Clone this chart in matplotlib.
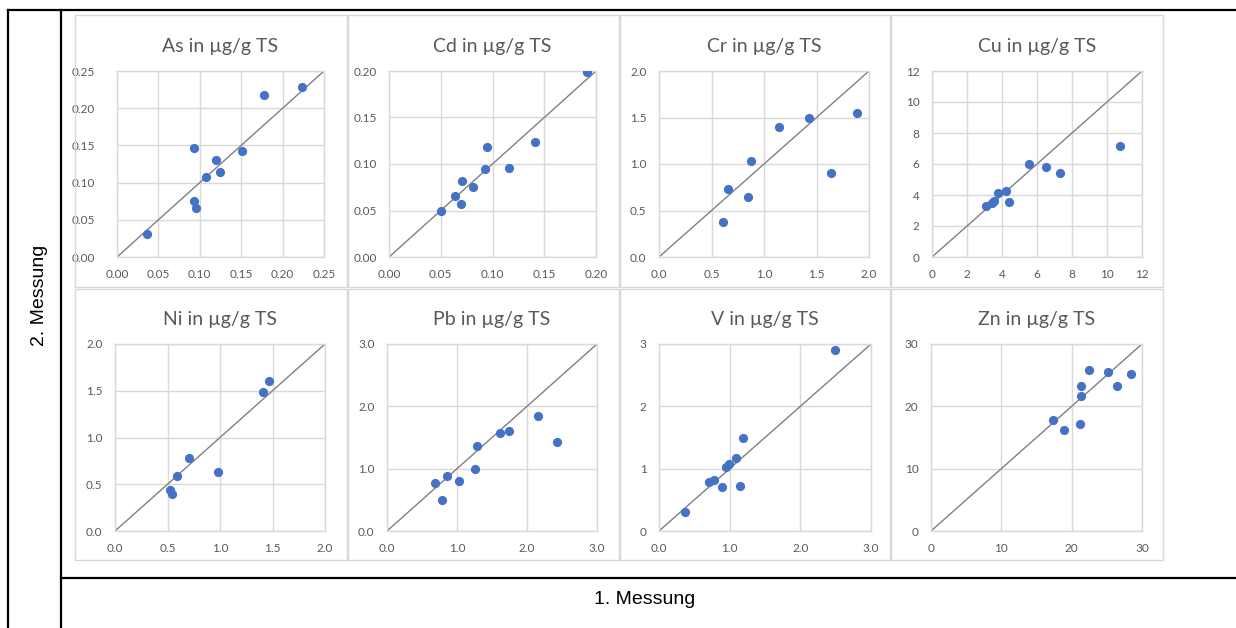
import matplotlib
matplotlib.use("Agg")
import matplotlib.pyplot as plt
from matplotlib.lines import Line2D
from matplotlib.ticker import FormatStrFormatter, MultipleLocator

# element names, axis limits, tick steps and tick formats
elements = ["As", "Cd", "Cr", "Cu", "Ni", "Pb", "V", "Zn"]
limits = [0.25, 0.20, 2.0, 12, 2.0, 3.0, 3.0, 30]
steps = [0.05, 0.05, 0.5, 2, 0.5, 1.0, 1.0, 10]
x_fmt = ["%.2f", "%.2f", "%.1f", "%d", "%.1f", "%.1f", "%.1f", "%d"]
y_fmt = ["%.2f", "%.2f", "%.1f", "%d", "%.1f", "%.1f", "%d", "%d"]

# 1. Messung (x) / 2. Messung (y)
as_x = [0.036, 0.093, 0.096, 0.093, 0.107, 0.120, 0.124, 0.151, 0.177, 0.223]
as_y = [0.031, 0.075, 0.066, 0.146, 0.108, 0.130, 0.114, 0.142, 0.218, 0.229]
cd_x = [0.050, 0.064, 0.070, 0.071, 0.081, 0.093, 0.095, 0.116, 0.141, 0.191]
cd_y = [0.050, 0.066, 0.057, 0.082, 0.075, 0.095, 0.118, 0.096, 0.124, 0.199]
cr_x = [0.61, 0.66, 0.85, 0.88, 1.14, 1.43, 1.64, 1.89]
cr_y = [0.38, 0.73, 0.65, 1.03, 1.40, 1.49, 0.90, 1.55]
cu_x = [3.09, 3.44, 3.57, 3.76, 4.20, 4.39, 5.57, 6.49, 7.29, 10.73]
cu_y = [3.26, 3.48, 3.63, 4.12, 4.25, 3.54, 5.99, 5.79, 5.45, 7.17]
ni_x = [0.52, 0.54, 0.59, 0.70, 0.98, 1.41, 1.47]
ni_y = [0.44, 0.40, 0.59, 0.78, 0.63, 1.49, 1.60]
pb_x = [0.68, 0.79, 0.86, 1.03, 1.25, 1.28, 1.61, 1.74, 2.16, 2.43]
pb_y = [0.77, 0.50, 0.89, 0.80, 1.00, 1.37, 1.57, 1.60, 1.84, 1.43]
v_x = [0.37, 0.71, 0.78, 0.89, 0.95, 0.99, 1.09, 1.14, 1.19, 2.49]
v_y = [0.31, 0.78, 0.82, 0.70, 1.03, 1.08, 1.17, 0.72, 1.50, 2.91]
zn_x = [17.3, 18.9, 21.2, 21.3, 21.3, 22.5, 25.2, 26.4, 28.5]
zn_y = [17.8, 16.2, 17.2, 21.7, 23.3, 25.8, 25.5, 23.2, 25.2]

xs = [as_x, cd_x, cr_x, cu_x, ni_x, pb_x, v_x, zn_x]
ys = [as_y, cd_y, cr_y, cu_y, ni_y, pb_y, v_y, zn_y]

W, H = 1236, 628
fig = plt.figure(figsize=(W / 100, H / 100), dpi=100)
fig.patch.set_facecolor("white")

def box(x0, y0, x1, y1):
    # pixel box (top-left origin) -> figure fraction rect
    return [x0 / W, 1 - y1 / H, (x1 - x0) / W, (y1 - y0) / H]

# panel frames and plot areas in pixels
col_frames = [(75, 347), (348, 619), (620, 890), (891, 1163)]
row_frames = [(15, 287), (289, 560)]
col_plots = [(117, 324), (389, 596), (659, 869), (932, 1142)]
row_plots = [(71, 257), (344, 531)]
col_plots2 = [(115, 325), (387, 597), (659, 871), (931, 1142)]

grid_c = "#d9d9d9"
text_c = "#595959"
font = ["Lato", "DejaVu Sans"]

for i, el in enumerate(elements):
    r, c = divmod(i, 4)
    fx0, fx1 = col_frames[c]
    fy0, fy1 = row_frames[r]
    frame = plt.Rectangle((fx0 / W, 1 - fy1 / H), (fx1 - fx0) / W, (fy1 - fy0) / H,
                          transform=fig.transFigure, fill=False, edgecolor=grid_c, lw=1)
    fig.add_artist(frame)

    px0, px1 = (col_plots if r == 0 else col_plots2)[c]
    py0, py1 = row_plots[r]
    ax = fig.add_axes(box(px0, py0, px1, py1))
    lim = limits[i]
    ax.plot([0, lim], [0, lim], color="#808080", lw=1, zorder=2)
    ax.scatter(xs[i], ys[i], s=44, color="#4472c4", zorder=3, linewidths=0)
    ax.set_xlim(0, lim)
    ax.set_ylim(0, lim)
    ax.xaxis.set_major_locator(MultipleLocator(steps[i]))
    ax.yaxis.set_major_locator(MultipleLocator(steps[i]))
    ax.xaxis.set_major_formatter(FormatStrFormatter(x_fmt[i]))
    ax.yaxis.set_major_formatter(FormatStrFormatter(y_fmt[i]))
    ax.grid(True, color=grid_c, lw=1)
    ax.set_axisbelow(True)
    for s in ax.spines.values():
        s.set_color(grid_c)
        s.set_linewidth(1)
    ax.tick_params(length=0, labelsize=8.5, labelcolor=text_c)
    ax.tick_params(axis="x", pad=9)
    ax.tick_params(axis="y", pad=16 if el == "As" else 9)
    for lab in ax.get_xticklabels() + ax.get_yticklabels():
        lab.set_family(font)
    ax.set_title(el + " in µg/g TS", fontsize=14, color=text_c, family=font, pad=14)

# table lines
lk = dict(color="black", lw=1.6, transform=fig.transFigure)
fig.add_artist(Line2D([8 / W, 1], [1 - 10 / H, 1 - 10 / H], **lk))
fig.add_artist(Line2D([8 / W, 8 / W], [0, 1 - 10 / H], **lk))
fig.add_artist(Line2D([61 / W, 61 / W], [0, 1 - 10 / H], **lk))
fig.add_artist(Line2D([61 / W, 1], [1 - 578 / H, 1 - 578 / H], **lk))

narrow = ["Liberation Sans Narrow", "Liberation Sans", "DejaVu Sans"]
fig.text(40 / W, 1 - 295 / H, "2. Messung", rotation=90, ha="center", va="center",
         fontsize=14, family=narrow)
fig.text(645 / W, 1 - 600 / H, "1. Messung", ha="center", va="center",
         fontsize=14, family=narrow)

fig.savefig("out.png", dpi=100)
